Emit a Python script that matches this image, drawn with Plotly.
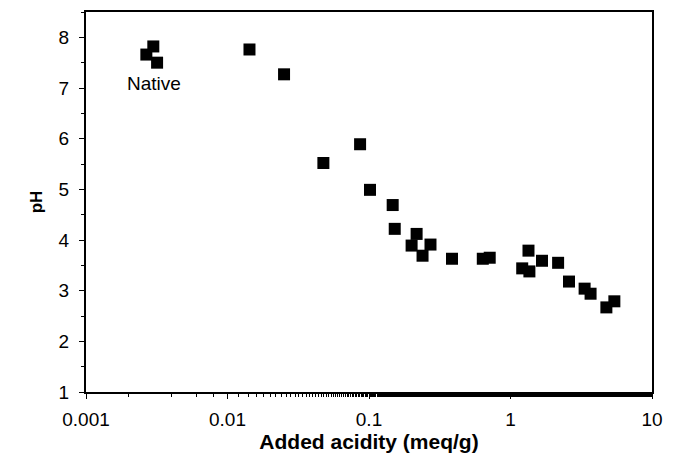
import plotly.graph_objects as go

acidity = [0.00267, 0.00299, 0.00318, 0.0143, 0.0251, 0.0476, 0.0865, 0.1016,
           0.147, 0.152, 0.217, 0.200, 0.272, 0.239, 0.386,
           0.637, 0.713, 1.21, 1.34, 1.36, 1.67, 2.17, 2.59, 3.34, 3.68, 4.76, 5.42]
ph = [7.66, 7.82, 7.50, 7.76, 7.27, 5.52, 5.89, 4.99,
      4.69, 4.22, 4.12, 3.89, 3.91, 3.69, 3.63,
      3.63, 3.65, 3.44, 3.79, 3.38, 3.59, 3.55, 3.18, 3.04, 2.94, 2.67, 2.79]

x_ticks = [0.001, 0.01, 0.1, 1, 10]
x_ticklabels = ["0.001", "0.01", "0.1", "1", "10"]
y_ticks = [1, 2, 3, 4, 5, 6, 7, 8]

font_family = "Liberation Sans, Arial, sans-serif"

fig = go.Figure()
fig.add_trace(go.Scatter(
    x=acidity, y=ph, mode="markers",
    marker=dict(symbol="square", size=12, color="black"),
    showlegend=False, hoverinfo="x+y",
))

fig.add_annotation(x=-2.52, y=7.08, xref="x", yref="y", text="Native",
                   showarrow=False, font=dict(size=19, color="black", family=font_family))

fig.update_layout(
    width=673, height=469,
    margin=dict(l=86, r=15, t=10, b=77),
    paper_bgcolor="white", plot_bgcolor="white",
    font=dict(family=font_family, color="black", size=19),
    xaxis=dict(
        type="log", range=[-3, 1],
        tickvals=x_ticks, ticktext=x_ticklabels,
        showgrid=False, zeroline=False,
        showline=True, linecolor="black", linewidth=2, mirror=True,
        ticks="outside", ticklen=5, tickwidth=1, tickcolor="black",
        minor=dict(ticks="outside", ticklen=3, tickcolor="black", showgrid=False),
        tickfont=dict(size=19), ticklabelstandoff=4,
        title=dict(text="<b>Added acidity (meq/g)</b>", font=dict(size=21), standoff=5),
    ),
    yaxis=dict(
        range=[1, 8.5],
        tickvals=y_ticks,
        showgrid=False, zeroline=False,
        showline=True, linecolor="black", linewidth=2, mirror=True,
        ticks="outside", ticklen=5, tickwidth=1, tickcolor="black",
        minor=dict(dtick=0.5, ticks="outside", ticklen=3, tickcolor="black", showgrid=False),
        tickfont=dict(size=19), ticklabelstandoff=6,
        title=dict(text="<b>pH</b>", font=dict(size=17), standoff=12),
    ),
)

fig.write_html("out.html")
